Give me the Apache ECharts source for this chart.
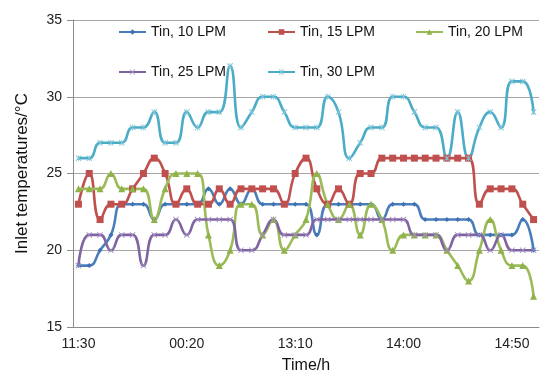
<!DOCTYPE html>
<html>
<head>
<meta charset="utf-8">
<script src="https://cdn.jsdelivr.net/npm/echarts@6/dist/echarts.min.js"></script>
<style>
    html, body { margin: 0; padding: 0; background: #fff; }
    #line1 { width: 541px; height: 381px; }
</style>
</head>
<body>
<div id="line1"></div>
<script>
// time stamps, 5 min apart (the 12:20 label reads "00:20" on the original)
var categories = [
    '11:30', '11:35', '11:40', '11:45', '11:50', '11:55', '12:00', '12:05', '12:10', '12:15',
    '00:20', '12:25', '12:30', '12:35', '12:40', '12:45', '12:50', '12:55', '13:00', '13:05',
    '13:10', '13:15', '13:20', '13:25', '13:30', '13:35', '13:40', '13:45', '13:50', '13:55',
    '14:00', '14:05', '14:10', '14:15', '14:20', '14:25', '14:30', '14:35', '14:40', '14:45',
    '14:50', '14:55', '15:00'
]
var seriesNames = ['Tin, 10 LPM', 'Tin, 15 LPM', 'Tin, 20 LPM', 'Tin, 25 LPM', 'Tin, 30 LPM']
var tin10 = [19, 19, 20, 21, 23, 23, 23, 22, 23, 23, 23, 23, 24, 23, 24, 23, 24, 23, 23, 23, 23, 23, 21, 23, 23, 23, 23, 23, 22, 23, 23, 23, 22, 22, 22, 22, 22, 21, 21, 21, 21, 22, 20]
var tin15 = [23, 25, 22, 23, 23, 24, 25, 26, 25, 23, 24, 23, 23, 24, 23, 24, 24, 24, 24, 23, 25, 26, 24, 23, 24, 23, 25, 25, 26, 26, 26, 26, 26, 26, 26, 26, 26, 23, 24, 24, 24, 23, 22]
var tin20 = [24, 24, 24, 25, 24, 24, 24, 22, 24, 25, 25, 25, 21, 19, 20, 23, 23, 21, 22, 20, 21, 22, 25, 23, 22, 23, 21, 23, 22, 20, 21, 21, 21, 21, 20, 19, 18, 20, 22, 20, 19, 19, 17]
var tin25 = [19, 21, 21, 20, 21, 21, 19, 21, 21, 22, 21, 22, 22, 22, 22, 20, 20, 21, 22, 21, 21, 21, 22, 22, 22, 22, 22, 22, 22, 22, 22, 21, 21, 21, 20, 21, 21, 21, 20, 21, 20, 20, 20]
var tin30 = [26, 26, 27, 27, 27, 28, 28, 29, 27, 27, 29, 28, 29, 29, 32, 28, 29, 30, 30, 29, 28, 28, 28, 30, 29, 26, 27, 28, 28, 30, 30, 29, 28, 28, 26, 29, 26, 28, 29, 28, 31, 31, 29]

var crossIcon = 'path://M0,1 L1,0 L5,4 L9,0 L10,1 L6,5 L10,9 L9,10 L5,6 L1,10 L0,9 L4,5 Z'
var starIcon = 'path://M0,1 L1,0 L5,4 L9,0 L10,1 L6,5 L10,9 L9,10 L5,6 L1,10 L0,9 L4,5 Z M4.4,0 L5.6,0 L5.6,10 L4.4,10 Z'
var fontName = 'Liberation Sans, Arial, sans-serif'

function makeLine (name, data, color, markColor, symbol, size) {
    return {
        name: name,
        type: 'line',
        data: data,
        smooth: 0.5,
        symbol: symbol,
        symbolSize: size,
        lineStyle: { color: color, width: 2.6 },
        itemStyle: { color: markColor, borderWidth: 0 },
        emphasis: { disabled: true }
    }
}

// legend spots (two rows like the original)
var legendPos = [[118, 25], [267, 25], [415, 25], [118, 65], [267, 65]]

var myChart = echarts.init(document.getElementById('line1'))
var option = {
    animation: false,
    textStyle: { fontFamily: fontName },
    legend: seriesNames.map(function (n, i) {
        return {
            data: [n],
            left: legendPos[i][0],
            top: legendPos[i][1],
            padding: 0,
            itemWidth: 27,
            itemHeight: 7,
            itemGap: 5,
            textStyle: { fontSize: 14, color: '#111', fontFamily: fontName }
        }
    }),
    grid: {
        left: 73,
        right: 2,
        top: 20,
        bottom: 54
    },
    xAxis: {
        type: 'category',
        data: categories,
        boundaryGap: true,
        name: 'Time/h',
        nameLocation: 'middle',
        nameGap: 31,
        nameTextStyle: { fontSize: 16, color: '#111' },
        axisTick: { show: false },
        axisLine: { lineStyle: { color: '#8c8c8c' } },
        axisLabel: {
            interval: 9,
            color: '#222',
            fontSize: 14,
            margin: 10
        }
    },
    yAxis: {
        type: 'value',
        min: 15,
        max: 35,
        interval: 5,
        name: 'Inlet temperatures/\u00b0C',
        nameLocation: 'middle',
        nameGap: 42,
        nameTextStyle: { fontSize: 17, color: '#111' },
        axisLine: { show: true, lineStyle: { color: '#8c8c8c' } },
        axisTick: { show: true, inside: false, length: 6, lineStyle: { color: '#8c8c8c' } },
        axisLabel: { color: '#222', fontSize: 14, margin: 11 },
        // 网格线
        splitLine: { lineStyle: { color: '#a6a6a6', width: 1 } }
    },
    series: [
        makeLine(seriesNames[0], tin10, '#4a7ebb', '#3f72b3', 'diamond', 5),
        makeLine(seriesNames[1], tin15, '#c0504d', '#c0504d', 'rect', 7),
        makeLine(seriesNames[2], tin20, '#9bbb59', '#8fb24a', 'triangle', 7),
        makeLine(seriesNames[3], tin25, '#8064a2', '#a08cc0', crossIcon, 6),
        makeLine(seriesNames[4], tin30, '#4bacc6', '#7cc3d8', starIcon, 6)
    ]
}
myChart.setOption(option)
window.onresize = myChart.resize
</script>
</body>
</html>
